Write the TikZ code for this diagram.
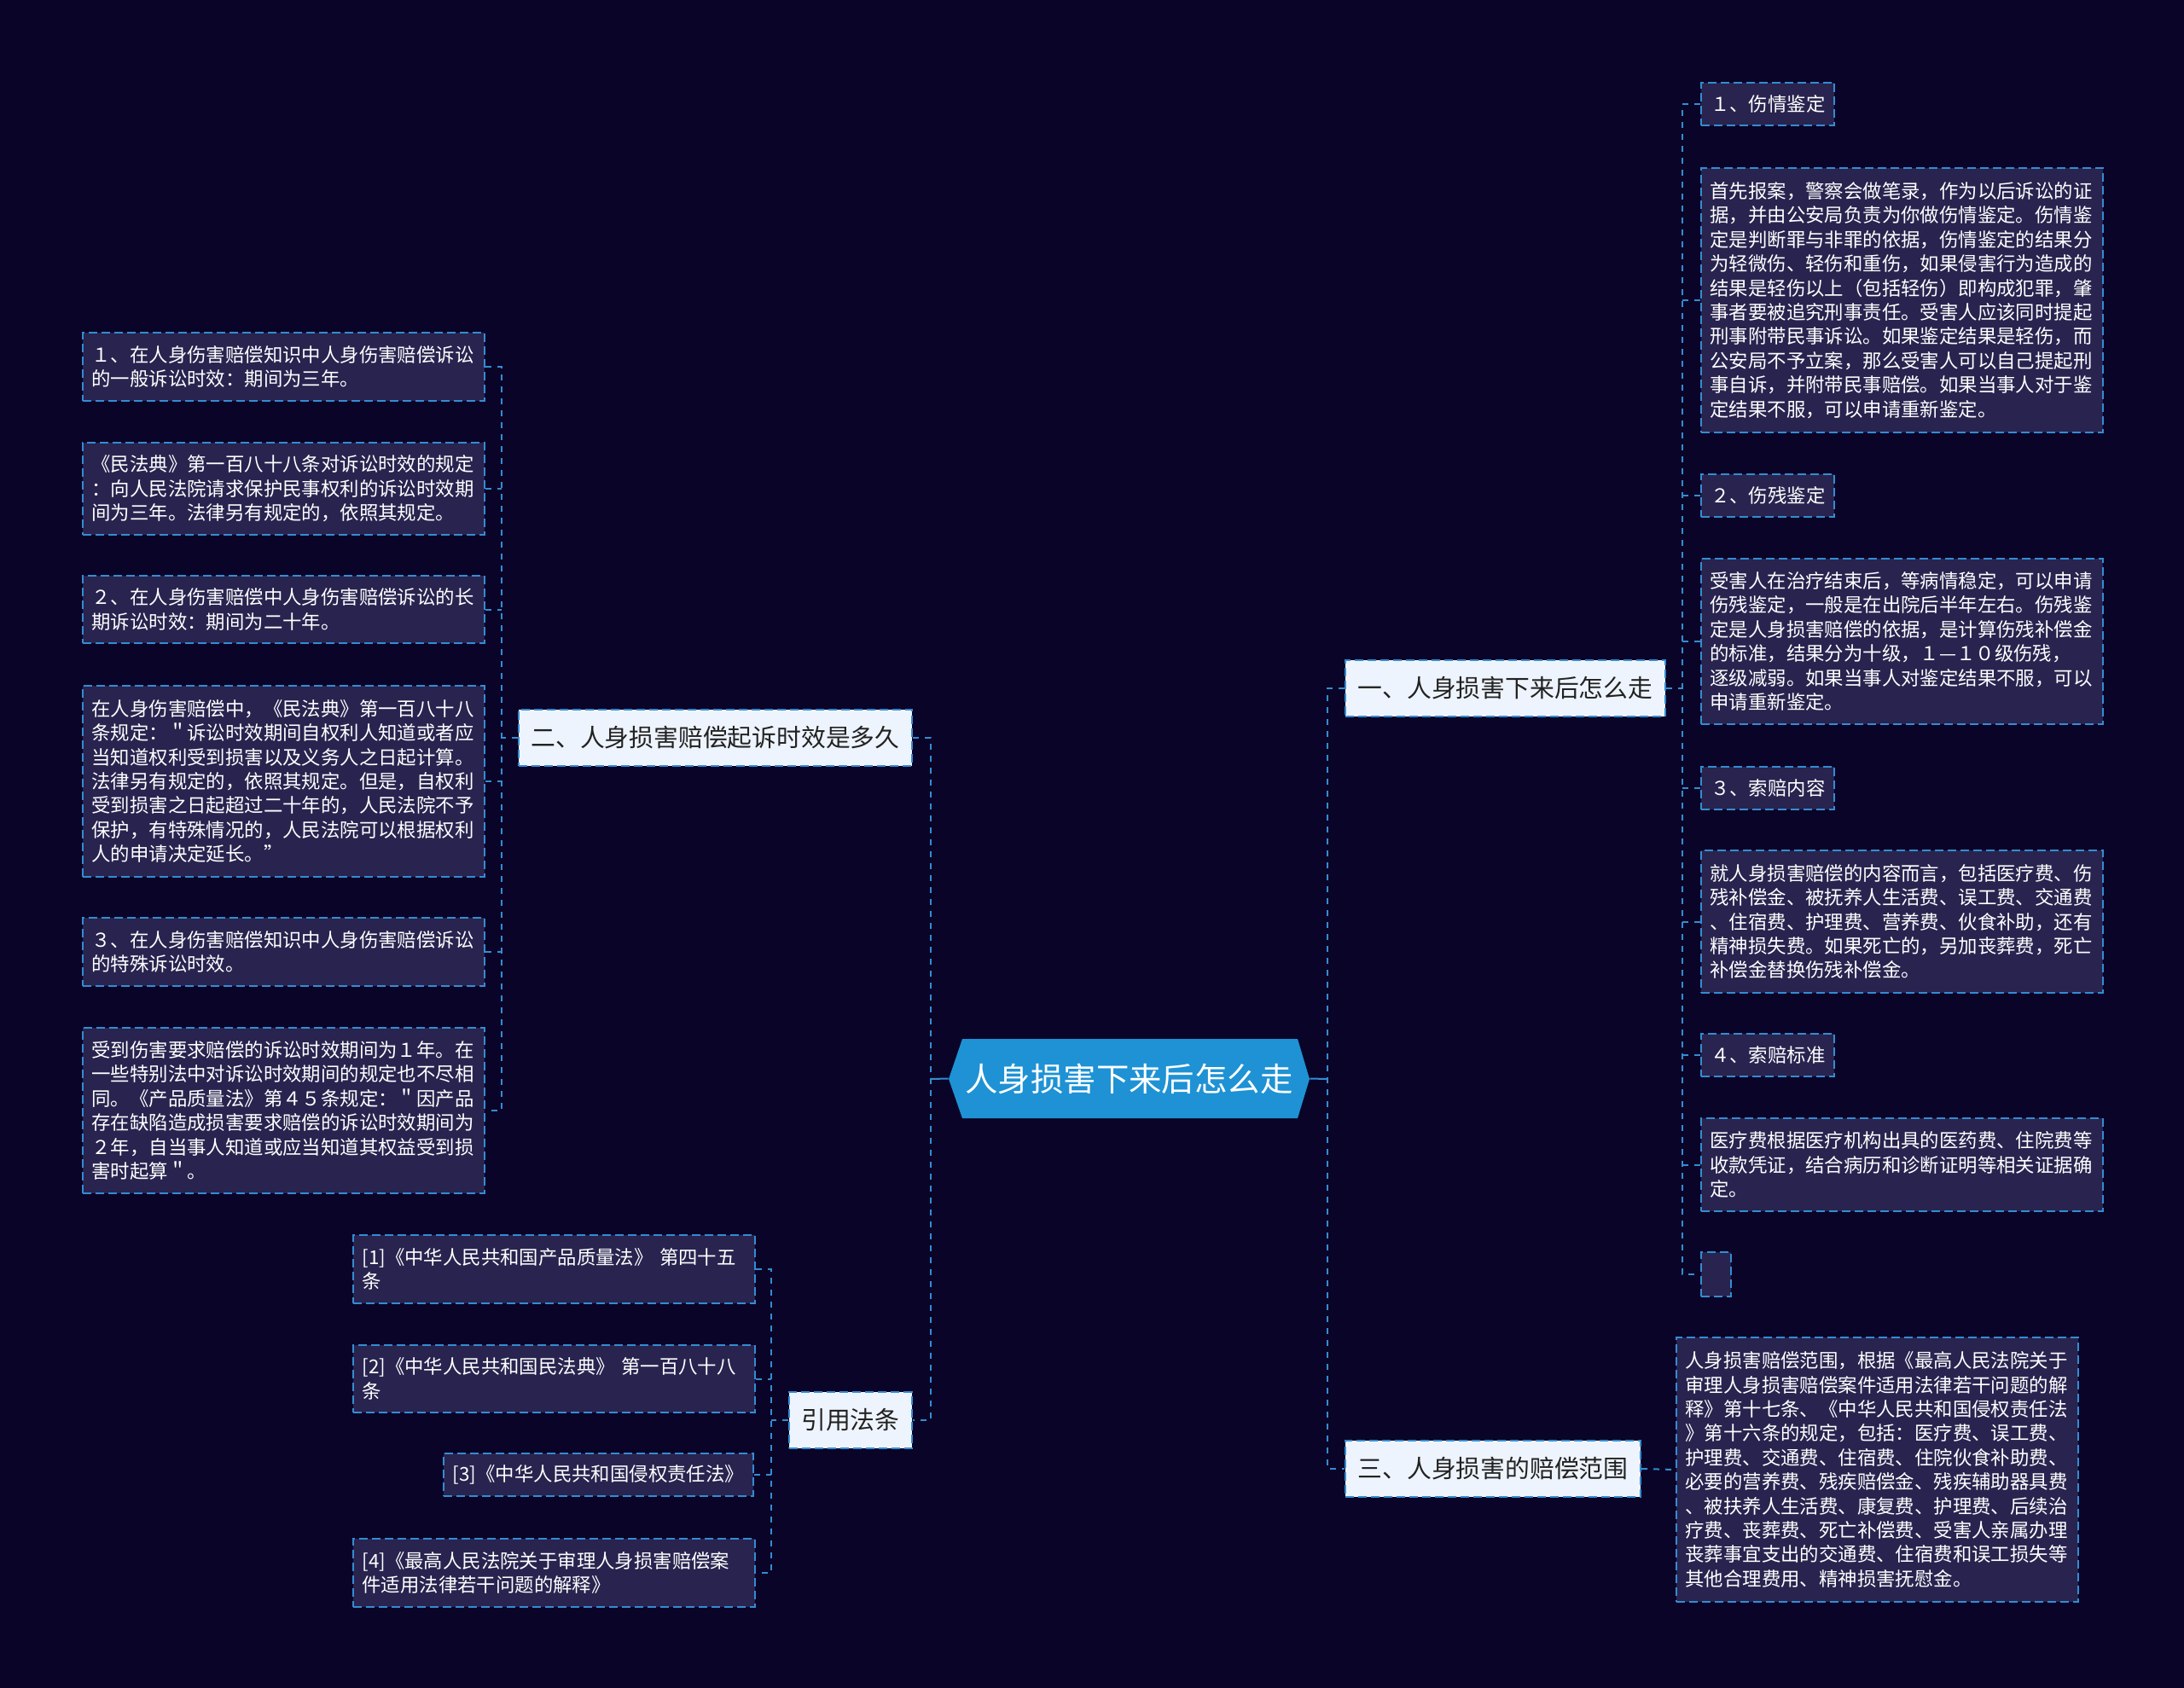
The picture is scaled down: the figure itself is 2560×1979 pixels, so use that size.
\documentclass[tikz,border=0pt]{standalone}
\usepackage{fontspec}
\setmainfont{Noto Sans CJK SC}
\usepackage{tikz}
\usetikzlibrary{positioning}
\definecolor{mmbg}{HTML}{0A0528}
\definecolor{mmbox}{HTML}{28244F}
\definecolor{mmline}{HTML}{348CD2}
\definecolor{mmbranch}{HTML}{EEF4FD}
\definecolor{mmroot}{HTML}{1E92D4}
\definecolor{mmtext}{HTML}{222222}

\begin{document}
\begin{tikzpicture}[x=0.5pt,y=-0.5pt,
    link/.style={mmline,line width=1pt,dash pattern=on 3.5pt off 3.5pt},
    boxline/.style={draw=mmline,line width=1pt,dash pattern=on 5pt off 2.5pt},
    detailbox/.style={boxline,fill=mmbox,text=white,anchor=north west,align=left,
      text width=225pt,inner xsep=5.25pt,inner ysep=2pt,font=\fontsize{11.2}{14.2}\selectfont},
    labelbox/.style={boxline,fill=mmbox,text=white,anchor=north west,inner xsep=5.5pt,
      inner ysep=2pt,minimum height=25pt,font=\fontsize{11.2}{14.2}\selectfont},
    branchbox/.style={boxline,fill=mmbranch,text=mmtext,inner xsep=7.3pt,inner ysep=2pt,
      minimum height=33pt,font=\fontsize{14.4}{17}\selectfont}]
    \useasboundingbox (0,0) rectangle (2560,1979);
    \fill[mmbg] (0,0) rectangle (2560,1979);
    % --- nodo central ---
    \fill[mmroot] (1112,1265) -- (1128,1218) -- (1521,1218) -- (1535,1265)
      -- (1521,1311) -- (1128,1311) -- cycle;
    \node[text=white,font=\fontsize{19.2}{22}\selectfont,minimum width=211.5pt,
      minimum height=46.5pt,inner sep=0pt] (root) at (1323.5,1264.5) {人身损害下来后怎么走};
    % --- ramas principales ---
    \node[branchbox,anchor=west] (n1) at (1576,807) {一、人身损害下来后怎么走};
    \node[branchbox,anchor=east] (n2) at (1070,865) {二、人身损害赔偿起诉时效是多久};
    \node[branchbox,anchor=west] (n3) at (1576,1722) {三、人身损害的赔偿范围};
    \node[branchbox,anchor=east] (n4) at (1070,1665) {引用法条};
    % --- hijos de la rama uno ---
    \node[labelbox] (a1) at (1993,96) {１、伤情鉴定};
    \node[detailbox,minimum height=155pt] (a2) at (1993,196) {首先报案，警察会做笔录，作为以后诉讼的证\\据，并由公安局负责为你做伤情鉴定。伤情鉴\\定是判断罪与非罪的依据，伤情鉴定的结果分\\为轻微伤、轻伤和重伤，如果侵害行为造成的\\结果是轻伤以上（包括轻伤）即构成犯罪，肇\\事者要被追究刑事责任。受害人应该同时提起\\刑事附带民事诉讼。如果鉴定结果是轻伤，而\\公安局不予立案，那么受害人可以自己提起刑\\事自诉，并附带民事赔偿。如果当事人对于鉴\\定结果不服，可以申请重新鉴定。};
    \node[labelbox] (a3) at (1993,555) {２、伤残鉴定};
    \node[detailbox,minimum height=97pt] (a4) at (1993,654) {受害人在治疗结束后，等病情稳定，可以申请\\伤残鉴定，一般是在出院后半年左右。伤残鉴\\定是人身损害赔偿的依据，是计算伤残补偿金\\的标准，结果分为十级，１—１０级伤残，\\逐级减弱。如果当事人对鉴定结果不服，可以\\申请重新鉴定。};
    \node[labelbox] (a5) at (1993,898) {３、索赔内容};
    \node[detailbox,minimum height=83.5pt] (a6) at (1993,996) {就人身损害赔偿的内容而言，包括医疗费、伤\\残补偿金、被抚养人生活费、误工费、交通费\\、住宿费、护理费、营养费、伙食补助，还有\\精神损失费。如果死亡的，另加丧葬费，死亡\\补偿金替换伤残补偿金。};
    \node[labelbox] (a7) at (1993,1211) {４、索赔标准};
    \node[detailbox,minimum height=54.5pt] (a8) at (1993,1310) {医疗费根据医疗机构出具的医药费、住院费等\\收款凭证，结合病历和诊断证明等相关证据确\\定。};
    \node[labelbox,inner sep=0pt,minimum width=17.5pt,minimum height=26pt] (a9) at (1993,1467) {};
    % --- hijo de la rama tres ---
    \node[detailbox,minimum height=155pt] (d3) at (1964,1567) {人身损害赔偿范围，根据《最高人民法院关于\\审理人身损害赔偿案件适用法律若干问题的解\\释》第十七条、《中华人民共和国侵权责任法\\》第十六条的规定，包括：医疗费、误工费、\\护理费、交通费、住宿费、住院伙食补助费、\\必要的营养费、残疾赔偿金、残疾辅助器具费\\、被扶养人生活费、康复费、护理费、后续治\\疗费、丧葬费、死亡补偿费、受害人亲属办理\\丧葬事宜支出的交通费、住宿费和误工损失等\\其他合理费用、精神损害抚慰金。};
    % --- hijos de la rama dos ---
    \node[detailbox,minimum height=40pt] (L1) at (96,389) {１、在人身伤害赔偿知识中人身伤害赔偿诉讼\\的一般诉讼时效：期间为三年。};
    \node[detailbox,minimum height=54pt] (L2) at (96,518) {《民法典》第一百八十八条对诉讼时效的规定\\：向人民法院请求保护民事权利的诉讼时效期\\间为三年。法律另有规定的，依照其规定。};
    \node[detailbox,minimum height=39.5pt] (L3) at (96,674) {２、在人身伤害赔偿中人身伤害赔偿诉讼的长\\期诉讼时效：期间为二十年。};
    \node[detailbox,minimum height=112pt] (L4) at (96,803) {在人身伤害赔偿中，《民法典》第一百八十八\\条规定：＂诉讼时效期间自权利人知道或者应\\当知道权利受到损害以及义务人之日起计算。\\法律另有规定的，依照其规定。但是，自权利\\受到损害之日起超过二十年的，人民法院不予\\保护，有特殊情况的，人民法院可以根据权利\\人的申请决定延长。”};
    \node[detailbox,minimum height=40pt] (L5) at (96,1075) {３、在人身伤害赔偿知识中人身伤害赔偿诉讼\\的特殊诉讼时效。};
    \node[detailbox,minimum height=97pt] (L6) at (96,1204) {受到伤害要求赔偿的诉讼时效期间为１年。在\\一些特别法中对诉讼时效期间的规定也不尽相\\同。《产品质量法》第４５条规定：＂因产品\\存在缺陷造成损害要求赔偿的诉讼时效期间为\\２年，自当事人知道或应当知道其权益受到损\\害时起算＂。};
    % --- hijos de referencias ---
    \node[detailbox,minimum height=40pt] (r1) at (413,1447) {[1]《中华人民共和国产品质量法》 第四十五\\条};
    \node[detailbox,minimum height=39.5pt] (r2) at (413,1576) {[2]《中华人民共和国民法典》 第一百八十八\\条};
    \node[labelbox,anchor=north east] (r3) at (884,1703) {[3]《中华人民共和国侵权责任法》};
    \node[detailbox,minimum height=40pt] (r4) at (413,1803) {[4]《最高人民法院关于审理人身损害赔偿案\\件适用法律若干问题的解释》};
    % --- conectores ---
    \coordinate (jr) at (1556,1265);
    \coordinate (jl) at (1091,1265);
    \coordinate (j1) at (1972,807);
    \coordinate (j2) at (588,865);
    \coordinate (j4) at (904,1665);
    \draw[mmline,line width=1pt] (root.east) -- (jr);
    \draw[mmline,line width=1pt] (root.west) -- (jl);
    \draw[link] (n1.west) -| (jr) |- (n3.west);
    \draw[link] (n2.east) -| (jl) |- (n4.east);
    \draw[link] (n1.east) -- (j1);
    \draw[link] (a1.west) -| (j1) |- (a9.west);
    \foreach \c in {a2,a3,a4,a5,a6,a7,a8}{\draw[link] (\c.west) -- (\c.west -| j1);}
    \draw[link] (n3.east) -- (d3.west);
    \draw[link] (n2.west) -- (j2);
    \draw[link] (L1.east) -| (j2) |- (L6.east);
    \foreach \c in {L2,L3,L4,L5}{\draw[link] (\c.east) -- (\c.east -| j2);}
    \draw[link] (n4.west) -- (j4);
    \draw[link] (r1.east) -| (j4) |- (r4.east);
    \foreach \c in {r2,r3}{\draw[link] (\c.east) -- (\c.east -| j4);}
\end{tikzpicture}
\end{document}
